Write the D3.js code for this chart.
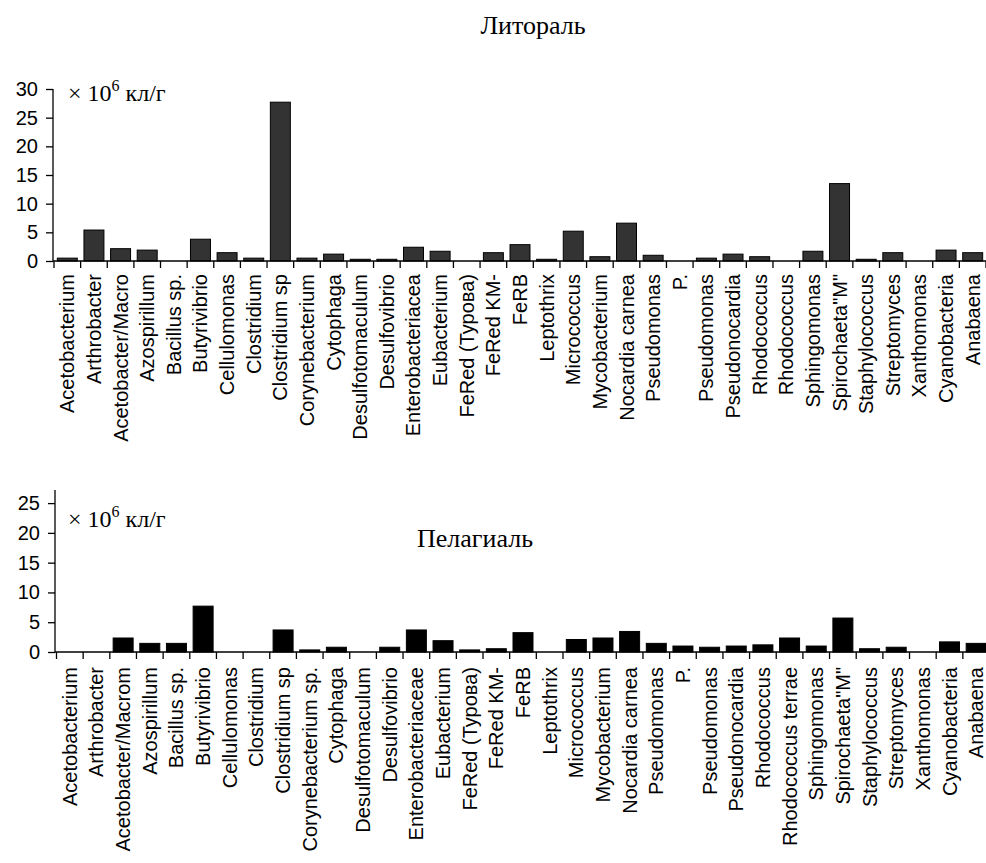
<!DOCTYPE html>
<html>

<head>
    <meta charset="UTF-8">
    <script src="https://d3js.org/d3.v7.min.js"></script>
    <style>
        body {
            margin: 0;
            background-color: #fff;
        }

        .tick-label {
            font-family: 'Liberation Sans', Arial, sans-serif;
            font-size: 20px;
            fill: #000;
        }

        .serif {
            font-family: 'Liberation Serif', 'Times New Roman', serif;
            fill: #000;
        }
    </style>
</head>

<body>
    <svg id="chart" width="986" height="863"></svg>
    <script>
        // Литораль
        var categoriesTop = ["Acetobacterium", "Arthrobacter", "Acetobacter/Macro", "Azospirillum", "Bacillus sp.",
            "Butyrivibrio", "Cellulomonas", "Clostridium", "Clostridium sp", "Corynebacterium", "Cytophaga",
            "Desulfotomaculum", "Desulfovibrio", "Enterobacteriacea", "Eubacterium", "FeRed (Турова)", "FeRed KM-",
            "FeRB", "Leptothrix", "Micrococcus", "Mycobacterium", "Nocardia carnea", "Pseudomonas", "P.",
            "Pseudomonas", "Pseudonocardia", "Rhodococcus", "Rhodococcus", "Sphingomonas", "Spirochaeta\"M\"",
            "Staphylococcus", "Streptomyces", "Xanthomonas", "Cyanobacteria", "Anabaena"];
        var valuesTop = [0.5, 5.4, 2.15, 1.9, 0, 3.8, 1.45, 0.5, 27.7, 0.5, 1.2, 0.3, 0.3, 2.4, 1.7, 0, 1.45,
            2.85, 0.3, 5.2, 0.75, 6.6, 1.0, 0, 0.5, 1.2, 0.75, 0, 1.7, 13.5, 0.3, 1.45, 0, 1.9, 1.45];
        var ticksTop = [0, 5, 10, 15, 20, 25, 30];

        // Пелагиаль
        var categoriesBottom = ["Acetobacterium", "Arthrobacter", "Acetobacter/Macrom", "Azospirillum", "Bacillus sp.",
            "Butyrivibrio", "Cellulomonas", "Clostridium", "Clostridium sp", "Corynebacterium sp.", "Cytophaga",
            "Desulfotomaculum", "Desulfovibrio", "Enterobacteriaceae", "Eubacterium", "FeRed (Турова)", "FeRed KM-",
            "FeRB", "Leptothrix", "Micrococcus", "Mycobacterium", "Nocardia carnea", "Pseudomonas", "P.",
            "Pseudomonas", "Pseudonocardia", "Rhodococcus", "Rhodococcus terrae", "Sphingomonas", "Spirochaeta\"M\"",
            "Staphylococcus", "Streptomyces", "Xanthomonas", "Cyanobacteria", "Anabaena"];
        var valuesBottom = [0, 0, 2.35, 1.45, 1.45, 7.7, 0, 0, 3.7, 0.35, 0.8, 0, 0.8, 3.7, 1.9, 0.35, 0.55,
            3.25, 0, 2.1, 2.35, 3.45, 1.45, 1.0, 0.8, 1.0, 1.2, 2.35, 1.0, 5.7, 0.55, 0.8, 0, 1.7, 1.45];
        var ticksBottom = [0, 5, 10, 15, 20, 25];

        var svg = d3.select("#chart");

        function drawPanel(opts) {
            var n = opts.categories.length;
            var x = d3.scaleBand()
                .domain(d3.range(n))
                .range([opts.x0, opts.x1])
                .paddingInner(0.25)
                .paddingOuter(0.125);
            var y = d3.scaleLinear()
                .domain([0, opts.yMax])
                .range([opts.yBase, opts.yTop]);

            var g = svg.append("g");

            // bars
            g.selectAll("rect")
                .data(opts.values)
                .enter()
                .append("rect")
                .attr("x", function (d, i) { return x(i); })
                .attr("y", function (d) { return y(d); })
                .attr("width", x.bandwidth())
                .attr("height", function (d) { return y(0) - y(d); })
                .attr("fill", opts.fill)
                .attr("stroke", "#000")
                .attr("stroke-width", 1)
                .style("display", function (d) { return d > 0 ? null : "none"; });

            // y axis
            var yAxis = d3.axisLeft(y)
                .tickValues(opts.ticks)
                .tickSize(7)
                .tickPadding(8);
            var ya = g.append("g")
                .attr("transform", "translate(" + opts.yAxisX + ",0)")
                .call(yAxis);
            ya.select(".domain").attr("d", "M0," + y(opts.yMax) + "V" + y(0)).attr("stroke", "#000").attr("stroke-width", 1.3);
            ya.selectAll(".tick line").attr("stroke", "#000").attr("stroke-width", 1.3);
            ya.selectAll(".tick text").attr("class", "tick-label").attr("font-size", null).attr("font-family", null);

            // x axis line with ticks at band boundaries
            g.append("line")
                .attr("x1", opts.yAxisX).attr("x2", opts.x1)
                .attr("y1", y(0)).attr("y2", y(0))
                .attr("stroke", "#000").attr("stroke-width", 1.3);
            g.selectAll(".xtick")
                .data(d3.range(n + 1))
                .enter()
                .append("line")
                .attr("x1", function (i) { return opts.x0 + i * x.step(); })
                .attr("x2", function (i) { return opts.x0 + i * x.step(); })
                .attr("y1", y(0))
                .attr("y2", y(0) + 7)
                .attr("stroke", "#000").attr("stroke-width", 1.3);

            // category labels, rotated
            g.selectAll(".cat")
                .data(opts.categories)
                .enter()
                .append("text")
                .attr("class", "tick-label")
                .attr("text-anchor", "end")
                .attr("dy", "0.35em")
                .attr("transform", function (d, i) {
                    return "translate(" + (x(i) + x.bandwidth() / 2) + "," + (y(0) + opts.labelGap) + ") rotate(-90)";
                })
                .text(function (d) { return d; });

            // units
            var u = g.append("text")
                .attr("class", "serif")
                .attr("x", opts.unitX)
                .attr("y", opts.unitY)
                .attr("font-size", 24);
            u.append("tspan").text("× 10");
            u.append("tspan").attr("dy", -10).attr("font-size", 16).text("6");
            u.append("tspan").attr("dy", 10).text(" кл/г");

            // panel title
            g.append("text")
                .attr("class", "serif")
                .attr("x", opts.titleX)
                .attr("y", opts.titleY)
                .attr("text-anchor", "middle")
                .attr("font-size", 26)
                .text(opts.title);
        }

        drawPanel({
            categories: categoriesTop, values: valuesTop, ticks: ticksTop,
            yMax: 30, yBase: 261, yTop: 89,
            x0: 54, x1: 986, yAxisX: 53,
            fill: "#333333", labelGap: 13,
            unitX: 68, unitY: 101,
            title: "Литораль", titleX: 533, titleY: 34
        });

        drawPanel({
            categories: categoriesBottom, values: valuesBottom, ticks: ticksBottom,
            yMax: 27.2, yBase: 652, yTop: 490,
            x0: 56.5, x1: 989.5, yAxisX: 55,
            fill: "#000000", labelGap: 15,
            unitX: 68, unitY: 527,
            title: "Пелагиаль", titleX: 475, titleY: 547
        });
    </script>
</body>

</html>
